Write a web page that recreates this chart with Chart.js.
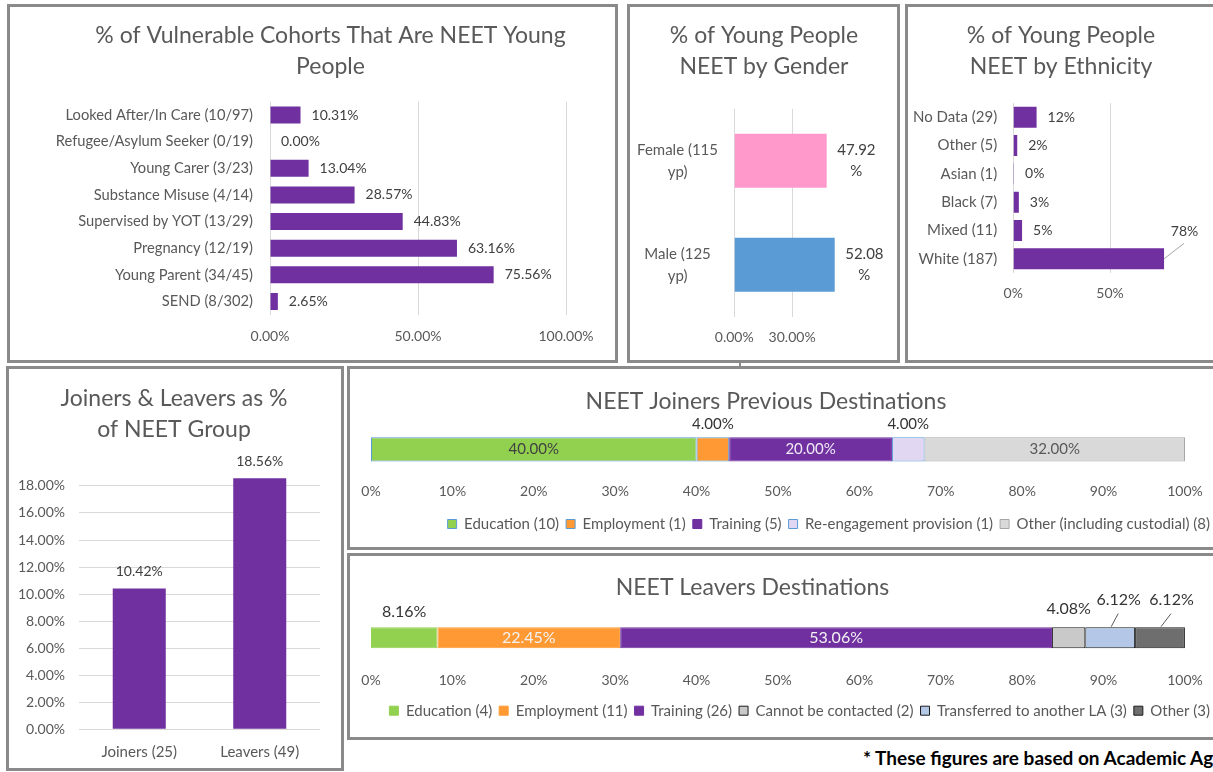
<!DOCTYPE html>
<html><head><meta charset="utf-8">
<script src="https://cdn.jsdelivr.net/npm/chart.js@4.4.0/dist/chart.umd.min.js"></script>
<style>
html,body{margin:0;padding:0;background:#fff;}
body{width:1213px;height:772px;overflow:hidden;position:relative;}
.panel{position:absolute;box-sizing:border-box;border:3px solid #8a8a8a;background:#fff;}
canvas{position:absolute;}
#note{position:absolute;left:863px;top:746px;font:bold 19px Lato, sans-serif;line-height:24px;color:#000;white-space:nowrap;}
#conn{position:absolute;left:739px;top:362px;width:2px;height:5px;background:#8a8a8a;}
</style></head><body>
<div class="panel" style="left:7px;top:4px;width:611px;height:359px"></div>
<div class="panel" style="left:627px;top:4px;width:273px;height:359px"></div>
<div class="panel" style="left:905px;top:4px;width:315px;height:359px"></div>
<div class="panel" style="left:6px;top:366px;width:338px;height:405px"></div>
<div class="panel" style="left:347px;top:366px;width:873px;height:184px"></div>
<div class="panel" style="left:347px;top:553px;width:873px;height:187px"></div>
<div id="conn"></div>
<canvas id="c1" width="641" height="353" style="left:10px;top:7px"></canvas>
<canvas id="c2" width="268" height="353" style="left:630px;top:7px"></canvas>
<canvas id="c3" width="306" height="353" style="left:908px;top:7px"></canvas>
<canvas id="c4" width="330" height="399" style="left:9px;top:369px"></canvas>
<canvas id="c5" width="902" height="178" style="left:315px;top:369px"></canvas>
<canvas id="c6" width="929" height="181" style="left:288px;top:556px"></canvas>
<div id="note">* These figures are based on Academic Age</div>
<script>
// ---------- DATA ----------
const cohortLabels = ['Looked After/In Care (10/97)', 'Refugee/Asylum Seeker (0/19)', 'Young Carer (3/23)', 'Substance Misuse (4/14)', 'Supervised by YOT (13/29)', 'Pregnancy (12/19)', 'Young Parent (34/45)', 'SEND (8/302)'];
const cohortValues = [10.31, 0.00, 13.04, 28.57, 44.83, 63.16, 75.56, 2.65];
const cohortTicks = [0, 50, 100];

const genderLabels = [['Female (115', 'yp)'], ['Male (125', 'yp)']];
const genderValues = [47.92, 52.08];
const genderTicks = [0, 30];

const ethnicityLabels = ['No Data (29)', 'Other (5)', 'Asian (1)', 'Black (7)', 'Mixed (11)', 'White (187)'];
const ethnicityValues = [12.08, 2.08, 0.42, 2.92, 4.58, 77.92];
const ethnicityTicks = [0, 50];

const jlLabels = ['Joiners (25)', 'Leavers (49)'];
const jlValues = [10.42, 18.56];
const jlTicks = [0, 2, 4, 6, 8, 10, 12, 14, 16, 18];

const joinerCategories = ['Education (10)', 'Employment (1)', 'Training (5)', 'Re-engagement provision (1)', 'Other (including custodial) (8)'];
const joinerValues = [40.00, 4.00, 20.00, 4.00, 32.00];

const leaverCategories = ['Education (4)', 'Employment (11)', 'Training (26)', 'Cannot be contacted (2)', 'Transferred to another LA (3)', 'Other (3)'];
const leaverValues = [8.16, 22.45, 53.06, 4.08, 6.12, 6.12];

const stackTicks = [0, 10, 20, 30, 40, 50, 60, 70, 80, 90, 100];

// ---------- STYLE ----------
Chart.defaults.font.family = 'Lato, sans-serif';
Chart.defaults.color = '#595959';
Chart.defaults.animation = false;
const PURPLE = '#7030A0';
const GRID = '#D9D9D9';
const LABEL = '#404040';

function titleOpts(text, top, bottom, lh) {
  return {display: true, text, color: '#595959', font: {size: 23, weight: 'normal', lineHeight: lh || 1.35}, padding: {top, bottom}};
}
function fixTicks(values) { return s => { s.ticks = values.map(v => ({value: v})); }; }
function spacer(type, position, w) {
  return {type, position, display: true, grid: {display: false, drawTicks: false}, border: {display: false}, ticks: {display: false}, afterFit: s => { s.width = w; }};
}
const base = {responsive: false, devicePixelRatio: 1, animation: false, events: []};

// end-of-bar labels for horizontal bars
function endLabels(values, fmt, size, callout) {
  return {id: 'endLabels', afterDatasetsDraw(chart) {
    const ctx = chart.ctx, meta = chart.getDatasetMeta(0);
    ctx.save();
    ctx.font = size + 'px Lato, sans-serif';
    ctx.fillStyle = LABEL; ctx.textBaseline = 'middle'; ctx.textAlign = 'left';
    meta.data.forEach((el, i) => {
      const txt = fmt(values[i]);
      if (callout && callout.index === i) {
        ctx.textAlign = 'center';
        ctx.fillText(txt, el.x + callout.dx, el.y + callout.dy);
        ctx.strokeStyle = '#A6A6A6'; ctx.lineWidth = 1;
        ctx.beginPath(); ctx.moveTo(el.x, el.y); ctx.lineTo(el.x + callout.lx, el.y + callout.ly); ctx.stroke();
        ctx.textAlign = 'left';
      } else {
        ctx.fillText(txt, el.x + 11, el.y);
      }
    });
    ctx.restore();
  }};
}

// ---------- CHART 1 ----------
new Chart(document.getElementById('c1'), {
  type: 'bar',
  data: {labels: cohortLabels, datasets: [{data: cohortValues, backgroundColor: PURPLE, barPercentage: 0.64, categoryPercentage: 1}]},
  options: Object.assign({}, base, {
    indexAxis: 'y',
    layout: {padding: 0},
    plugins: {legend: {display: false}, tooltip: {enabled: false},
      title: titleOpts(['% of Vulnerable Cohorts That Are NEET Young', 'People'], 13.5, 19.1)},
    scales: {
      x: {min: 0, max: 100, afterBuildTicks: fixTicks(cohortTicks), grid: {color: GRID, drawTicks: false}, border: {display: false},
          ticks: {padding: 13.4, font: {size: 14}, callback: v => v.toFixed(2) + '%'}, afterFit: s => { s.height = 45.2; }},
      y: {grid: {display: false, drawTicks: false}, border: {display: false}, ticks: {padding: 17, font: {size: 14.7}}, afterFit: s => { s.width = 260; }},
      y2: spacer('category', 'right', 85)
    }
  }),
  plugins: [endLabels(cohortValues, v => v.toFixed(2) + '%', 14)]
});

// ---------- CHART 2 ----------
new Chart(document.getElementById('c2'), {
  type: 'bar',
  data: {labels: genderLabels, datasets: [{data: genderValues, backgroundColor: ['#FF99CC', '#5B9BD5'], barPercentage: 0.52, categoryPercentage: 1}]},
  options: Object.assign({}, base, {
    indexAxis: 'y',
    layout: {padding: 0},
    plugins: {legend: {display: false}, tooltip: {enabled: false},
      title: titleOpts(['% of Young People', 'NEET by Gender'], 13.5, 26.2)},
    scales: {
      x: {min: 0, max: 60, afterBuildTicks: fixTicks(genderTicks), grid: {color: GRID, drawTicks: false}, border: {display: false},
          ticks: {padding: 12.7, font: {size: 14}, callback: v => v.toFixed(2) + '%'}, afterFit: s => { s.height = 43.2; }},
      y: {grid: {display: false, drawTicks: false}, border: {display: false}, ticks: {padding: 16.2, crossAlign: 'center', font: {size: 15, lineHeight: 1.47}}, afterFit: s => { s.width = 104.2; }},
      y2: spacer('category', 'right', 48)
    }
  }),
  plugins: [{id: 'genderLabels', afterDatasetsDraw(chart) {
    const ctx = chart.ctx, meta = chart.getDatasetMeta(0);
    ctx.save();
    ctx.font = '15px Lato, sans-serif'; ctx.fillStyle = LABEL; ctx.textBaseline = 'middle'; ctx.textAlign = 'center';
    meta.data.forEach((el, i) => {
      const lines = [genderValues[i].toFixed(2), '%'];
      const w = Math.max(...lines.map(l => ctx.measureText(l).width));
      const cx = el.x + 10.5 + w / 2;
      ctx.fillText(lines[0], cx, el.y - 10.5);
      ctx.fillText(lines[1], cx, el.y + 10.5);
    });
    ctx.restore();
  }}]
});

// ---------- CHART 3 ----------
new Chart(document.getElementById('c3'), {
  type: 'bar',
  data: {labels: ethnicityLabels, datasets: [{data: ethnicityValues, backgroundColor: PURPLE, barPercentage: 0.74, categoryPercentage: 1}]},
  options: Object.assign({}, base, {
    indexAxis: 'y',
    layout: {padding: 0},
    plugins: {legend: {display: false}, tooltip: {enabled: false},
      title: titleOpts(['% of Young People', 'NEET by Ethnicity'], 13.5, 20.4)},
    scales: {
      x: {min: 0, max: 100, afterBuildTicks: fixTicks(ethnicityTicks), grid: {color: GRID, drawTicks: false}, border: {display: false},
          ticks: {padding: 12.5, font: {size: 14}, callback: v => v + '%'}, afterFit: s => { s.height = 87; }},
      y: {grid: {display: false, drawTicks: false}, border: {display: false}, ticks: {padding: 16, font: {size: 15}}, afterFit: s => { s.width = 105.2; }},
      y2: spacer('category', 'right', 7.2)
    }
  }),
  plugins: [endLabels(ethnicityValues, v => Math.round(v) + '%', 14, {index: 5, dx: 20.5, dy: -27, lx: 20, ly: -15.5})]
});

// ---------- CHART 4 ----------
new Chart(document.getElementById('c4'), {
  type: 'bar',
  data: {labels: jlLabels, datasets: [{data: jlValues, backgroundColor: PURPLE, barPercentage: 0.44, categoryPercentage: 1}]},
  options: Object.assign({}, base, {
    layout: {padding: 0},
    plugins: {legend: {display: false}, tooltip: {enabled: false},
      title: titleOpts(['Joiners & Leavers as %', 'of NEET Group'], 13.4, 13.0, 1.38)},
    scales: {
      x: {grid: {display: false, drawTicks: false}, border: {display: false}, ticks: {padding: 13.9, font: {size: 15}}, afterFit: s => { s.height = 38.7; }},
      y: {min: 0, max: 20, afterBuildTicks: fixTicks(jlTicks), grid: {color: GRID, drawTicks: false}, border: {display: false},
          ticks: {padding: 14, font: {size: 14}, callback: v => v.toFixed(2) + '%'}, afterFit: s => { s.width = 70; }},
      y2: spacer('linear', 'right', 19)
    }
  }),
  plugins: [{id: 'topLabels', afterDatasetsDraw(chart) {
    const ctx = chart.ctx, meta = chart.getDatasetMeta(0);
    ctx.save();
    ctx.font = '14px Lato, sans-serif'; ctx.fillStyle = LABEL; ctx.textBaseline = 'middle'; ctx.textAlign = 'center';
    meta.data.forEach((el, i) => ctx.fillText(jlValues[i].toFixed(2) + '%', el.x, el.y - 17));
    ctx.restore();
  }}]
});

// ---------- STACKED CHARTS ----------
function stackLabels(values, styles, size) {
  return {id: 'stackLabels', afterDatasetsDraw(chart) {
    const ctx = chart.ctx;
    ctx.save();
    ctx.font = size + 'px Lato, sans-serif'; ctx.textBaseline = 'middle'; ctx.textAlign = 'center';
    chart.data.datasets.forEach((ds, i) => {
      const el = chart.getDatasetMeta(i).data[0];
      const st = styles[i], txt = values[i].toFixed(2) + '%';
      const cx = (el.x + el.base) / 2, top = el.y - el.height / 2;
      if (st.pos === 'in') {
        ctx.fillStyle = st.color; ctx.fillText(txt, cx, el.y);
      } else {
        const lx = cx + (st.dx || 0), ly = top + st.dy;
        ctx.fillStyle = '#333333'; ctx.fillText(txt, lx, ly);
        if (st.leader) {
          ctx.strokeStyle = '#595959'; ctx.lineWidth = 1;
          ctx.beginPath(); ctx.moveTo(lx - 0.5, ly + 13.3); ctx.lineTo(cx + 1, top - 0.6); ctx.stroke();
        }
      }
    });
    ctx.restore();
  }};
}
function stackedOptions(title, tTop, tBottom, leftW, rightW, tickPad, xH, padBottom) {
  return Object.assign({}, base, {
    indexAxis: 'y',
    layout: {padding: {left: 0, right: 0, top: 0, bottom: padBottom}},
    plugins: {
      tooltip: {enabled: false},
      title: titleOpts(title, tTop, tBottom),
      legend: {display: true, position: 'bottom', align: 'end',
        labels: {boxWidth: 9, boxHeight: 9, padding: 7, color: '#595959', font: {size: 15}}}
    },
    scales: {
      x: {stacked: true, min: 0, max: 100, afterBuildTicks: fixTicks(stackTicks), grid: {display: false}, border: {display: false},
          ticks: {padding: tickPad, font: {size: 14}, callback: v => v + '%'}, afterFit: s => { s.height = xH; }},
      y: {stacked: true, grid: {display: false, drawTicks: false}, border: {display: false}, ticks: {display: false}, afterFit: s => { s.width = leftW; }},
      y2: spacer('category', 'right', rightW)
    }
  });
}

const joinFill = ['#92D050', '#FF9933', PURPLE, '#E2D7F3', '#D9D9D9'];
const joinBorder = ['#5B9BD5', '#5B9BD5', PURPLE, '#5B9BD5', '#A6A6A6'];
const joinLabelStyle = [{pos: 'in', color: '#404040'}, {pos: 'above', dy: -13}, {pos: 'in', color: '#F0EAF6'}, {pos: 'above', dy: -13}, {pos: 'in', color: '#595959'}];
new Chart(document.getElementById('c5'), {
  type: 'bar',
  data: {labels: [''], datasets: joinerCategories.map((c, i) => ({label: c, data: [joinerValues[i]],
    backgroundColor: joinFill[i], borderColor: joinBorder[i], borderWidth: 1, borderSkipped: false, barPercentage: 0.62, categoryPercentage: 1}))},
  options: stackedOptions('NEET Joiners Previous Destinations', 17.5, 12.45, 56, 32, 6.4, 40.7, 5.5),
  plugins: [stackLabels(joinerValues, joinLabelStyle, 15)]
});

const leaveFill = ['#92D050', '#FF9933', PURPLE, '#C9C9C9', '#B4C7E7', '#6E6E6E'];
const leaveBorder = ['#92D050', '#FF9933', PURPLE, '#1A1A1A', '#1A1A1A', '#1A1A1A'];
const leaveLabelStyle = [{pos: 'above', dy: -15.6}, {pos: 'in', color: '#F2F2F2'}, {pos: 'in', color: '#F2F2F2'},
  {pos: 'above', dy: -18}, {pos: 'above', dx: 8.5, dy: -27, leader: true}, {pos: 'above', dx: 11.5, dy: -27, leader: true}];
new Chart(document.getElementById('c6'), {
  type: 'bar',
  data: {labels: [''], datasets: leaverCategories.map((c, i) => ({label: c, data: [leaverValues[i]],
    backgroundColor: leaveFill[i], borderColor: leaveBorder[i], borderWidth: 1, borderSkipped: false, barPercentage: 0.59, categoryPercentage: 1}))},
  options: stackedOptions('NEET Leavers Destinations', 16.2, 16.75, 83, 32, 8.3, 40.6, 8.8),
  plugins: [stackLabels(leaverValues, leaveLabelStyle, 16)]
});
</script>
</body></html>
